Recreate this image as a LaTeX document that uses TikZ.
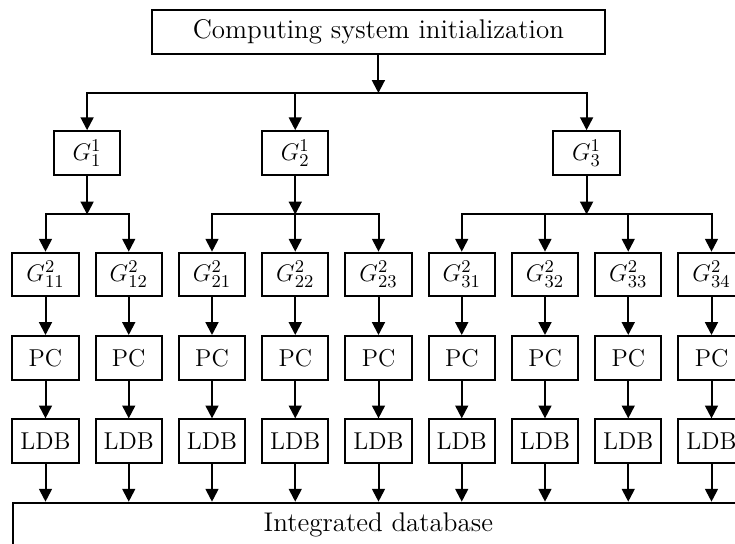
\documentclass[tikz,border=0pt]{standalone}
\usetikzlibrary{arrows.meta}
\begin{document}
\begin{tikzpicture}[x=0.5pt,y=-0.5pt, line width=1pt,
  >={Triangle[length=6.4pt,width=6.4pt]},
  box/.style={draw, minimum width=33.2pt, minimum height=21.8pt, inner sep=0pt,
    font=\fontsize{12.2}{14}\selectfont},
  bigbox/.style={draw, inner sep=0pt, minimum height=21.8pt,
    font=\fontsize{13.5}{16}\selectfont},
  hline/.style={line cap=rect}]
\useasboundingbox (0,0) rectangle (735,544);
\clip (0,0) rectangle (735,544);

\node[bigbox, minimum width=226.3pt] (init) at (378.4,32.2) {Computing system initialization};
\coordinate (s0) at (378.4,93);

\node[box] (g1) at (87.1,153) {$G^1_1$};
\node[box] (g2) at (295.25,153) {$G^1_2$};
\node[box] (g3) at (586.6,153) {$G^1_3$};

\coordinate (s1) at (87.1,214.5);
\coordinate (s2) at (295.25,214.5);
\coordinate (s3) at (586.6,214.5);

\node[bigbox, minimum width=365.7pt, minimum height=22.4pt] (db) at (378.4,525.1) {Integrated database};

\foreach \n [count=\i from 0] in {11,12,21,22,23,31,32,33,34} {
  \node[box] (h\n) at ({45.5+83.25*\i},274.5) {$G^2_{\n}$};
  \node[box] (pc\n) at ({45.5+83.25*\i},357.8) {PC};
  \node[box] (ldb\n) at ({45.5+83.25*\i},441.2) {LDB};
  \draw[->] (h\n) -- (pc\n);
  \draw[->] (pc\n) -- (ldb\n);
  \draw[->] (ldb\n) -- (ldb\n |- db.north);
}

% level 1
\draw[->] (init.south) -- (s0);
\draw[hline] (s0 -| g1) -- (s0 -| g3);
\draw[->] (s0 -| g1) -- (g1);
\draw[->] (s0 -| g2) -- (g2);
\draw[->] (s0 -| g3) -- (g3);

% level 2
\draw[->] (g1) -- (s1);
\draw[hline] (s1 -| h11) -- (s1 -| h12);
\foreach \n in {11,12} \draw[->] (s1 -| h\n) -- (h\n);

\draw[->] (g2) -- (s2);
\draw[hline] (s2 -| h21) -- (s2 -| h23);
\foreach \n in {21,22,23} \draw[->] (s2 -| h\n) -- (h\n);

\draw[->] (g3) -- (s3);
\draw[hline] (s3 -| h31) -- (s3 -| h34);
\foreach \n in {31,32,33,34} \draw[->] (s3 -| h\n) -- (h\n);
\end{tikzpicture}
\end{document}
